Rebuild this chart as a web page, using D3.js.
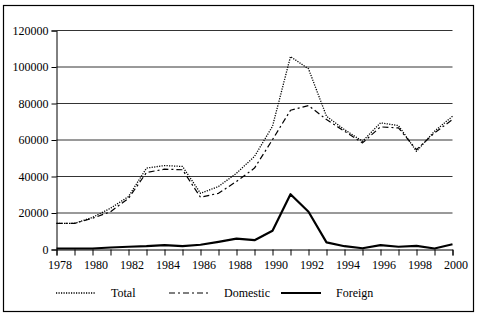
<!DOCTYPE html>
<html lang="en">
<head>
<meta charset="UTF-8">
<title>Chart</title>
<script src="https://cdn.jsdelivr.net/npm/d3@7"></script>
<style>
  body { margin: 0; background: #fff; }
</style>
</head>
<body>
<svg width="478" height="314"></svg>
<script>
// data
var years = d3.range(1978, 2001);
var total    = [14300,14300,17600,22600,29000,44600,46000,45500,30800,34500,41800,51000,67500,105700,99000,73000,65700,59300,69400,67900,53800,64800,73000];
var domestic = [14300,14300,17100,20700,28000,42200,44000,43700,28600,30800,37300,44600,60200,76300,78900,71200,64800,58400,67200,66600,54700,63900,71200];
var foreign  = [550,550,550,1100,1500,1800,2400,1800,2600,4200,6000,5100,10300,30300,20700,3900,1800,700,2400,1500,2000,550,2900];
var yTicks = [0,20000,40000,60000,80000,100000,120000];
var names = ['Total','Domestic','Foreign'];

var svg = d3.select('svg');

// outer frame
svg.append('rect').attr('x',3.5).attr('y',5.5).attr('width',470).attr('height',306)
   .attr('fill','none').attr('stroke','#000').attr('stroke-width',1.2);

var x = d3.scaleLinear().domain([1978,2000]).range([56.5,452.5]);
var y = d3.scaleLinear().domain([0,120000]).range([249.5,30.5]);

// grid lines
svg.append('g').selectAll('line').data(yTicks.slice(1)).enter().append('line')
   .attr('x1',x(1978)).attr('x2',x(2000))
   .attr('y1',function(d){return y(d);}).attr('y2',function(d){return y(d);})
   .attr('stroke','#000').attr('stroke-width',0.8);

// y axis
var yAxis = d3.axisLeft(y).tickValues(yTicks).tickSize(5).tickPadding(3)
   .tickFormat(d3.format('d'));
var gy = svg.append('g').attr('transform','translate('+x(1978)+',0)').call(yAxis);

// x axis
var xAxis = d3.axisBottom(x).tickValues(years).tickSize(6).tickPadding(5)
   .tickFormat(function(d){ return d % 2 === 0 ? d : ''; });
var gx = svg.append('g').attr('transform','translate(0,'+y(0)+')').call(xAxis);

gy.attr('font-family', 'Liberation Serif').attr('font-size', 12);
gx.attr('font-family', 'Liberation Serif').attr('font-size', 12);
svg.selectAll('.domain').attr('stroke','#000');
svg.selectAll('.tick line').attr('stroke','#000');
gx.selectAll('.tick text').attr('dx', 3);

var styles = [
  {data: total,    dash: '1.2,1.3', width: 1.3},
  {data: domestic, dash: '6,3,2,3', width: 1.2},
  {data: foreign,  dash: null,      width: 2.2}
];

var line = d3.line().x(function(d,i){return x(years[i]);}).y(function(d){return y(d);});

styles.forEach(function(s){
  svg.append('path').datum(s.data).attr('d',line)
     .attr('fill','none').attr('stroke','#000')
     .attr('stroke-width',s.width).attr('stroke-dasharray',s.dash)
     .attr('stroke-linejoin','round');
});

// legend
var lx = [56,169,281];
styles.forEach(function(s,i){
  var g = svg.append('g').attr('transform','translate('+lx[i]+',293)');
  g.append('line').attr('x1',0).attr('x2',40).attr('y1',0).attr('y2',0)
   .attr('stroke','#000').attr('stroke-width',s.width).attr('stroke-dasharray',s.dash);
  g.append('text').attr('x',55).attr('y',4)
   .attr('font-family','Liberation Serif').attr('font-size',12).text(names[i]);
});
</script>
</body>
</html>
